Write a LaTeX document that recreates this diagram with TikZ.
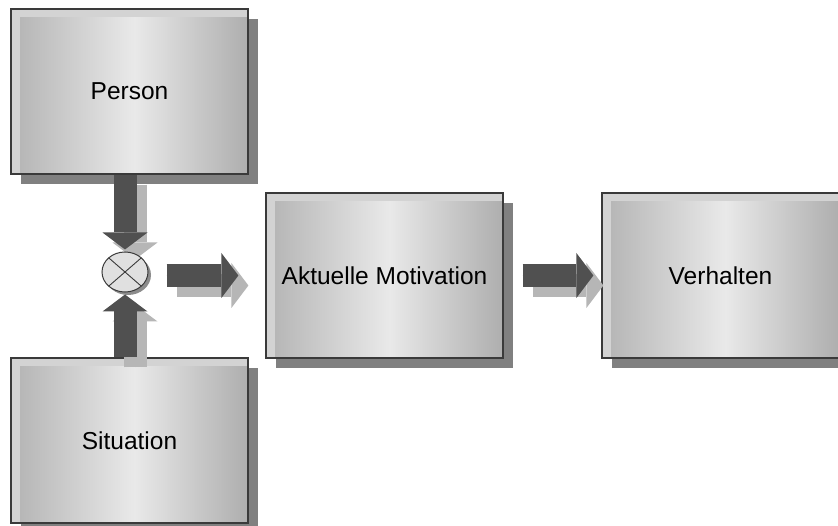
\documentclass[tikz,border=0pt]{standalone}
\usepackage{fontspec}
\setmainfont{Liberation Sans}
\usetikzlibrary{shapes.geometric,shadows,arrows.meta,calc}

\pgfdeclarelayer{boxlayer}
\pgfdeclarelayer{shadelayer}
\pgfsetlayers{boxlayer,shadelayer,main}

\definecolor{framefill}{HTML}{D3D3D3}
\definecolor{frameline}{HTML}{3A3A3A}
\definecolor{boxshadow}{HTML}{808080}
\definecolor{arrowdark}{HTML}{505050}
\definecolor{arrowshadow}{HTML}{B6B6B6}
\definecolor{multfill}{HTML}{E0E0E0}
\definecolor{multshadow}{HTML}{8C8C8C}
\definecolor{shadeA}{HTML}{B3B3B3}
\definecolor{shadeB}{HTML}{E9E9E9}
\definecolor{shadeC}{HTML}{AEAEAE}

% horizontal grey ramp: dark at the sides, light in the middle
\pgfdeclarehorizontalshading{panelshade}{100bp}{%
  color(0bp)=(shadeA); color(25bp)=(shadeA); color(51bp)=(shadeB);
  color(75bp)=(shadeC); color(100bp)=(shadeC)}

\tikzset{
  panel/.style={
    draw=frameline, line width=1.2pt, fill=framefill,
    minimum width=237pt, minimum height=165pt, inner sep=0pt,
    font=\fontsize{24.5}{29}\selectfont,
    drop shadow={shadow xshift=10pt, shadow yshift=-10pt, fill=boxshadow, opacity=1},
    path picture={\shade[shading=panelshade]
      ($(path picture bounding box.north west)+(9pt,-9pt)$)
      rectangle (path picture bounding box.south east);}
  },
  multnode/.style={
    ellipse, draw=frameline, line width=1pt, fill=multfill,
    minimum width=46pt, minimum height=40pt, inner sep=0pt,
    drop shadow={shadow xshift=3pt, shadow yshift=-3pt, fill=multshadow, opacity=1},
    path picture={\draw[frameline, line width=0.9pt]
      (path picture bounding box.north west) -- (path picture bounding box.south east)
      (path picture bounding box.north east) -- (path picture bounding box.south west);}
  },
  blockarrow/.style={line width=23pt, line cap=butt,
    -{Triangle[length=17pt, width=45pt, line width=0pt]}},
  darkarrow/.style={blockarrow, draw=arrowdark, fill=arrowdark},
  lightarrow/.style={blockarrow, draw=arrowshadow, fill=arrowshadow,
    transform canvas={shift={(10pt,-10pt)}}}
}

\begin{document}
\begin{tikzpicture}[x=1pt, y=-1pt]
  \path[use as bounding box, clip] (0,0) rectangle (838,526);

  \begin{pgfonlayer}{boxlayer}
    \fill[white] (0,0) rectangle (838,526);
    \node[panel] (person) at (129.5,91.5) {Person};
    \node[panel] (situ)   at (129.5,440.5) {Situation};
    \node[panel] (akt)    at (384.5,275.5) {Aktuelle Motivation};
    \node[panel] (verh)   at (720.5,275.5) {Verhalten};
  \end{pgfonlayer}

  % combining operator
  \node[multnode] (mult) at (125,272) {};

  % soft arrow shadows
  \begin{pgfonlayer}{shadelayer}
    \draw[lightarrow] (person.south -| mult.north) -- ([yshift=2pt]mult.north);
    \draw[lightarrow] (situ.north -| mult.south) -- ([yshift=-2pt]mult.south);
    \draw[lightarrow, shorten <=18pt, shorten >=27pt] (mult.east |- akt.west) -- (akt.west);
    \draw[lightarrow, shorten <=19pt, shorten >=8pt] (akt.east) -- (verh.west);
  \end{pgfonlayer}

  % block arrows
  \draw[darkarrow] (person.south -| mult.north) -- ([yshift=2pt]mult.north);
  \draw[darkarrow] (situ.north -| mult.south) -- ([yshift=-2pt]mult.south);
  \draw[darkarrow, shorten <=18pt, shorten >=27pt] (mult.east |- akt.west) -- (akt.west);
  \draw[darkarrow, shorten <=19pt, shorten >=8pt] (akt.east) -- (verh.west);
\end{tikzpicture}
\end{document}
